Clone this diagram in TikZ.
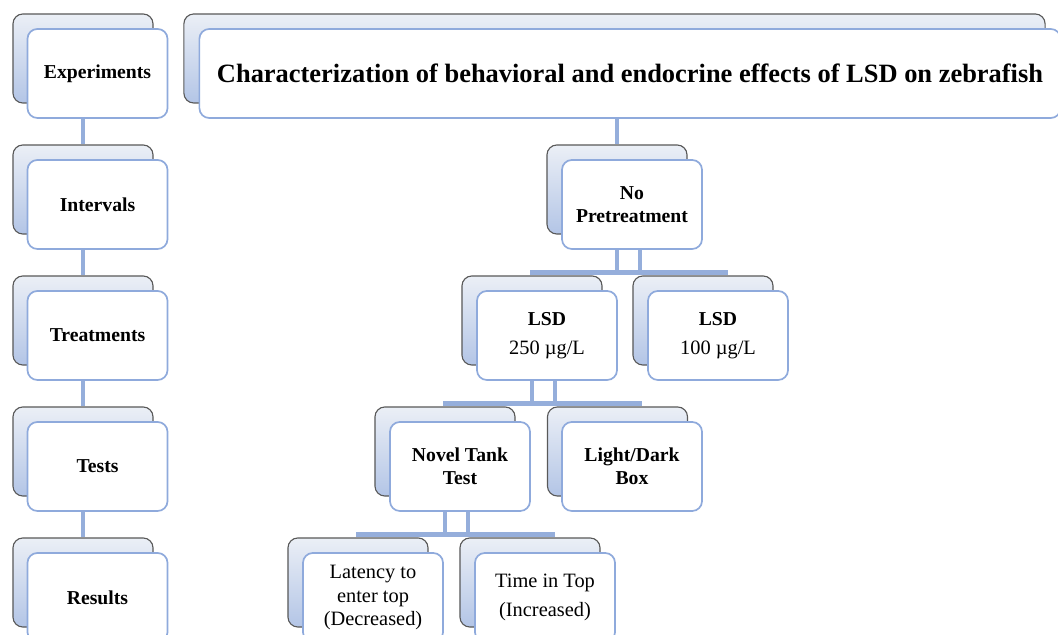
\documentclass[tikz,border=0pt]{standalone}
\usepackage{fontspec}
\setmainfont{Liberation Serif}
\usetikzlibrary{calc}

\definecolor{boxline}{HTML}{8FAADC}
\definecolor{linkblue}{HTML}{95AEDB}
\definecolor{backtop}{HTML}{EBEFF6}
\definecolor{backbot}{HTML}{B3C5E6}

\begin{document}
\begin{tikzpicture}[x=0.025cm, y=0.025cm,
	every node/.style={align=center, font=\fontsize{14}{16.5}\selectfont\bfseries},
	backbox/.style={draw=black!65, line width=0.8pt, rounded corners=7pt, top color=backtop, bottom color=backbot, minimum width=3.5cm, minimum height=2.225cm, inner sep=0pt},
	frontbox/.style={draw=boxline, line width=1.2pt, fill=white, rounded corners=7pt, minimum width=3.5cm, minimum height=2.225cm, inner sep=0pt},
	plain/.style={font=\fontsize{14.5}{17}\selectfont},
	link/.style={draw=linkblue, line width=3pt}]
	\useasboundingbox (0,0) rectangle (1058,635);
	% left column
	\node[backbox] (expB) at (83,576.5) {};
	\node[frontbox] (exp) at (97.5,561.5) {Experiments};
	\node[backbox] (intB) at (83,445.5) {};
	\node[frontbox] (int) at (97.5,430.5) {Intervals};
	\node[backbox] (trtB) at (83,314.5) {};
	\node[frontbox] (trt) at (97.5,299.5) {Treatments};
	\node[backbox] (tstB) at (83,183.5) {};
	\node[frontbox] (tst) at (97.5,168.5) {Tests};
	\node[backbox] (resB) at (83,52.5) {};
	\node[frontbox] (res) at (97.5,37.5) {Results};
	\foreach \a/\b in {exp/intB, int/trtB, trt/tstB, tst/resB}
		\draw[link] (\b.north |- \a.south) -- (\b.north);
	% title
	\node[backbox, minimum width=21.525cm] (titleB) at (614.5,576.5) {};
	\node[frontbox, minimum width=21.525cm, font=\fontsize{18.8}{22}\selectfont\bfseries] (title) at (630,561.5) {Characterization of behavioral and endocrine effects of LSD on zebrafish};
	% tree
	\node[backbox] (npB) at (617,445.5) {};
	\node[frontbox] (np) at (632,430.5) {No\\Pretreatment};
	\node[backbox] (lsdaB) at (532,314.5) {};
	\node[frontbox] (lsda) at (547,299.5) {LSD\\[4pt]{\fontsize{14.5}{17}\selectfont\mdseries 250 µg/L}};
	\node[backbox] (lsdbB) at (703,314.5) {};
	\node[frontbox] (lsdb) at (718,299.5) {LSD\\[4pt]{\fontsize{14.5}{17}\selectfont\mdseries 100 µg/L}};
	\node[backbox] (ntB) at (445,183.5) {};
	\node[frontbox] (nt) at (460,168.5) {Novel Tank\\Test};
	\node[backbox] (ldB) at (617.5,183.5) {};
	\node[frontbox] (ld) at (632,168.5) {Light/Dark\\Box};
	\node[backbox] (latB) at (358,52.5) {};
	\node[frontbox, plain] (lat) at (373,37.5) {Latency to\\enter top\\(Decreased)};
	\node[backbox] (tinB) at (530,52.5) {};
	\node[frontbox, plain] (tin) at (545,37.5) {Time in Top\\[4pt](Increased)};
	\draw[link] (npB.north |- title.south) -- (npB.north);
	\foreach \p/\l/\r in {np/lsda/lsdb, lsda/nt/ld, nt/lat/tin} {
		\draw[link] (\p B |- \p.south) -- ($(\p B |- \l B.north)+(0,3)$);
		\draw[link] ($(\p.south)+(8,0)$) -- ($(\p.south |- \l B.north)+(8,3)$);
		\draw[link] ($(\l B.north)+(-2,3)$) -- ($(\r.north |- \l B.north)+(10,3)$);
	}
\end{tikzpicture}
\end{document}
